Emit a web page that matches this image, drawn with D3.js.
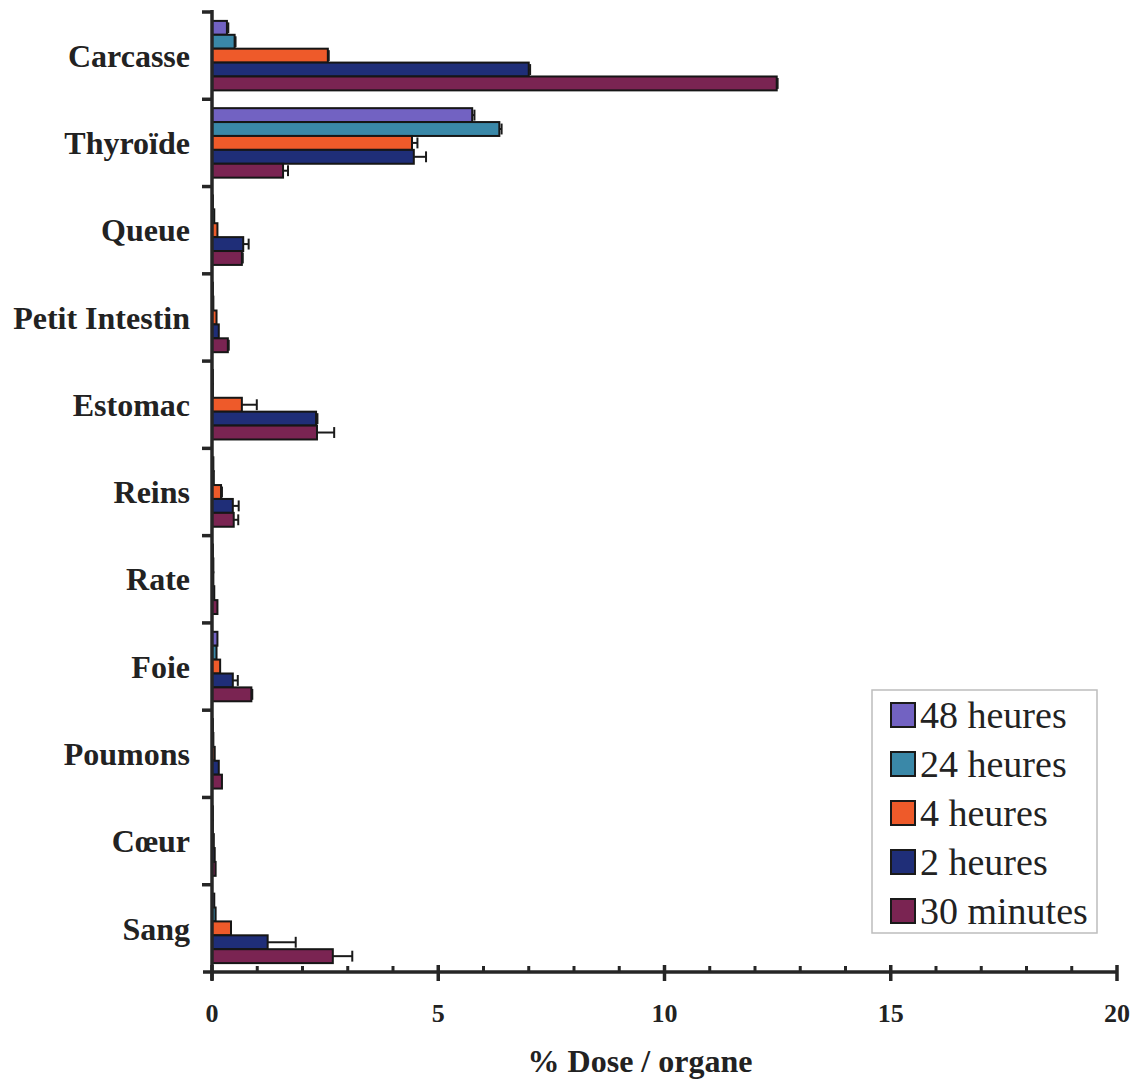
<!DOCTYPE html>
<html>
<head>
<meta charset="utf-8">
<script src="https://cdn.jsdelivr.net/npm/d3@7"></script>
<style>
  html, body { margin: 0; padding: 0; background: #fff; }
  svg { display: block; }
</style>
</head>
<body>
<svg id="chart" width="1142" height="1082"></svg>
<script>
// Organs, top to bottom
const organs = ["Carcasse", "Thyroïde", "Queue", "Petit Intestin", "Estomac", "Reins",
                "Rate", "Foie", "Poumons", "Cœur", "Sang"];

// Time points (drawn top to bottom inside each organ group)
const seriesNames = ["48 heures", "24 heures", "4 heures", "2 heures", "30 minutes"];
const seriesColors = ["#7262c2", "#3a88a8", "#ee5a2a", "#1f2e78", "#7a2452"];

// % dose per organ, one array per time point (same order as organs)
const h48   = [0.33, 5.75, 0.02, 0.02, 0.02, 0.03, 0.02, 0.12, 0.02, 0.02, 0.05];
const h24   = [0.50, 6.35, 0.05, 0.03, 0.02, 0.04, 0.03, 0.10, 0.03, 0.02, 0.08];
const h4    = [2.56, 4.42, 0.12, 0.10, 0.66, 0.20, 0.03, 0.18, 0.06, 0.04, 0.42];
const h2    = [7.00, 4.46, 0.69, 0.15, 2.30, 0.46, 0.05, 0.46, 0.15, 0.06, 1.23];
const min30 = [12.48, 1.57, 0.66, 0.35, 2.32, 0.48, 0.12, 0.87, 0.22, 0.08, 2.67];

// Standard deviations (error bar length, positive side)
const h48Err   = [0.03, 0.05, 0, 0, 0, 0, 0, 0, 0, 0, 0];
const h24Err   = [0.02, 0.05, 0, 0, 0, 0, 0, 0, 0, 0, 0];
const h4Err    = [0.02, 0.12, 0, 0, 0.33, 0.02, 0, 0, 0, 0, 0];
const h2Err    = [0.03, 0.27, 0.12, 0, 0.03, 0.13, 0, 0.11, 0, 0, 0.62];
const min30Err = [0.02, 0.11, 0.02, 0.02, 0.38, 0.10, 0, 0.02, 0, 0, 0.43];

const xTicks = [0, 5, 10, 15, 20];

const values = [h48, h24, h4, h2, min30];
const errors = [h48Err, h24Err, h4Err, h2Err, min30Err];

const svg = d3.select("#chart");
const margin = { left: 212, top: 12 };
const plotRight = 1117, plotBottom = 972;

const x = d3.scaleLinear().domain([0, 20]).range([margin.left, plotRight]);
const y = d3.scaleBand().domain(organs).range([margin.top, plotBottom]).paddingInner(0).paddingOuter(0);
const inner = d3.scaleBand().domain(seriesNames).range([0, y.bandwidth()]).paddingOuter(0.64).paddingInner(0);

const serif = "'Liberation Serif', 'Times New Roman', serif";

// Bars
const rows = [];
organs.forEach((o, i) => {
  seriesNames.forEach((s, j) => {
    rows.push({ organ: o, series: s, v: values[j][i], e: errors[j][i], color: seriesColors[j] });
  });
});

const g = svg.append("g");
g.selectAll("rect.bar").data(rows).join("rect")
  .attr("class", "bar")
  .attr("x", x(0))
  .attr("y", d => y(d.organ) + inner(d.series))
  .attr("width", d => x(d.v) - x(0))
  .attr("height", inner.bandwidth())
  .attr("fill", d => d.color)
  .attr("stroke", "#161616")
  .attr("stroke-width", 2);

// Error bars
const errRows = rows.filter(d => d.e > 0);
g.selectAll("line.err").data(errRows).join("line")
  .attr("x1", d => x(d.v)).attr("x2", d => x(d.v + d.e))
  .attr("y1", d => y(d.organ) + inner(d.series) + inner.bandwidth() / 2)
  .attr("y2", d => y(d.organ) + inner(d.series) + inner.bandwidth() / 2)
  .attr("stroke", "#1a1a1a").attr("stroke-width", 2);
g.selectAll("line.cap").data(errRows).join("line")
  .attr("x1", d => x(d.v + d.e)).attr("x2", d => x(d.v + d.e))
  .attr("y1", d => y(d.organ) + inner(d.series) + 1.5)
  .attr("y2", d => y(d.organ) + inner(d.series) + inner.bandwidth() - 1.5)
  .attr("stroke", "#1a1a1a").attr("stroke-width", 2);

// X axis: major ticks with labels, minor ticks every unit
const axisColor = "#262626";
const xAxisG = svg.append("g").attr("transform", `translate(0,${plotBottom})`);
xAxisG.append("line").attr("x1", x(0) - 9).attr("x2", x(20) + 1)
  .attr("stroke", axisColor).attr("stroke-width", 3.5);
xAxisG.selectAll("line.minor").data(d3.range(1, 20).filter(v => v % 5 !== 0)).join("line")
  .attr("x1", d => x(d)).attr("x2", d => x(d))
  .attr("y1", -6).attr("y2", 0)
  .attr("stroke", axisColor).attr("stroke-width", 3);
xAxisG.selectAll("line.major").data(xTicks).join("line")
  .attr("x1", d => x(d)).attr("x2", d => x(d))
  .attr("y1", -7).attr("y2", 9)
  .attr("stroke", axisColor).attr("stroke-width", 3.5);
xAxisG.selectAll("text.tick").data(xTicks).join("text")
  .attr("x", d => x(d)).attr("y", 50)
  .attr("text-anchor", "middle")
  .attr("font-family", serif).attr("font-weight", "bold").attr("font-size", 26)
  .attr("fill", "#222")
  .text(d => d);

svg.append("text")
  .attr("x", 640).attr("y", 1072)
  .attr("text-anchor", "middle")
  .attr("font-family", serif).attr("font-weight", "bold").attr("font-size", 32)
  .attr("fill", "#222")
  .text("% Dose / organe");

// Y axis: line, category boundary ticks, labels
const yAxisG = svg.append("g");
yAxisG.append("line").attr("x1", x(0)).attr("x2", x(0))
  .attr("y1", margin.top - 2).attr("y2", plotBottom + 8)
  .attr("stroke", axisColor).attr("stroke-width", 3.5);
const bounds = organs.map(o => y(o));
yAxisG.selectAll("line.ytick").data(bounds).join("line")
  .attr("x1", x(0) - 10).attr("x2", x(0))
  .attr("y1", d => d).attr("y2", d => d)
  .attr("stroke", axisColor).attr("stroke-width", 3.5);
yAxisG.selectAll("text.cat").data(organs).join("text")
  .attr("x", 190)
  .attr("y", d => y(d) + y.bandwidth() / 2)
  .attr("dy", "0.35em")
  .attr("text-anchor", "end")
  .attr("font-family", serif).attr("font-weight", "bold").attr("font-size", 32)
  .attr("fill", "#222")
  .text(d => d);

// Legend
const legend = svg.append("g").attr("transform", "translate(872,690)");
legend.append("rect").attr("width", 225).attr("height", 243)
  .attr("fill", "#fff").attr("stroke", "#bdbdbd").attr("stroke-width", 1.5);
const li = legend.selectAll("g.item").data(seriesNames).join("g")
  .attr("transform", (d, i) => `translate(19,${13 + i * 49})`);
li.append("rect").attr("width", 24).attr("height", 24)
  .attr("fill", (d, i) => seriesColors[i])
  .attr("stroke", "#1a1a1a").attr("stroke-width", 2);
li.append("text").attr("x", 29).attr("y", 12).attr("dy", "0.35em")
  .attr("font-family", serif).attr("font-size", 38).attr("fill", "#222")
  .text(d => d);
</script>
</body>
</html>
